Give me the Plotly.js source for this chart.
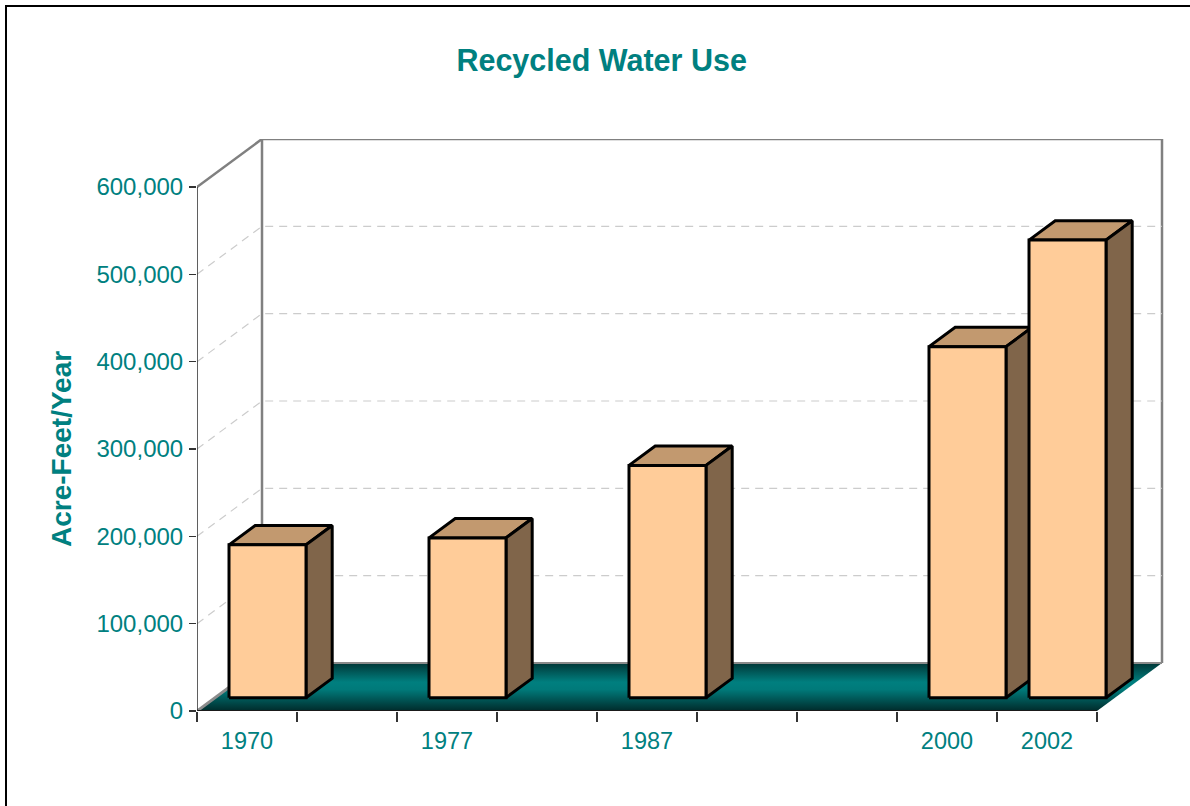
<!DOCTYPE html>
<html>
<head>
<meta charset="utf-8">
<script src="https://cdn.plot.ly/plotly-3.0.1.min.js"></script>
<style>
  html, body { margin: 0; padding: 0; background: #ffffff; overflow: hidden; }
  #wrap { position: relative; width: 1190px; height: 806px; overflow: hidden; }
  #chart { position: absolute; left: 0; top: 0; width: 1190px; height: 806px; }
  #frame { position: absolute; left: 5px; top: 5px; width: 1210px; height: 830px;
           border: 2px solid #000; pointer-events: none; box-sizing: border-box; }
</style>
</head>
<body>
<div id="wrap">
  <div id="chart"></div>
  <div id="frame"></div>
</div>
<script>
// ---- data ----
const categories = ['1970', '', '1977', '', '1987', '', '', '2000', '2002'];
const values = [175000, null, 183000, null, 266000, null, null, 402000, 524000];
const yTickValues = [0, 100000, 200000, 300000, 400000, 500000, 600000];
const chartTitle = 'Recycled Water Use';
const yTitle = 'Acre-Feet/Year';

// ---- style constants ----
const TEAL = '#008080';
const FONT = '"Liberation Sans", Arial, Helvetica, sans-serif';
const DX = 0.65;        // depth offset in category units
const DY = 55000;       // depth offset in value units
const BAR_L = 0.14, BAR_R = 0.91;   // bar extent inside its slot
const Z0 = 0.277, Z1 = 0.68;        // bar depth (front / back)
const n = categories.length;
const yMax = yTickValues[yTickValues.length - 1];

function P(x, y, z) { return [x + z * DX, y + z * DY]; }
function poly(pts) {
  return { x: pts.map(p => p[0]), y: pts.map(p => p[1]) };
}
function lineTrace(pts, color, width, dash) {
  const p = poly(pts);
  return { type: 'scatter', mode: 'lines', x: p.x, y: p.y, xaxis: 'x', yaxis: 'y',
           line: { color: color, width: width, dash: dash || 'solid' },
           hoverinfo: 'skip', showlegend: false };
}
function faceTrace(pts, fill, lineColor, lineWidth) {
  const closed = pts.concat([pts[0]]);
  const p = poly(closed);
  return { type: 'scatter', mode: 'lines', x: p.x, y: p.y, xaxis: 'x', yaxis: 'y',
           fill: 'toself', fillcolor: fill,
           line: { color: lineColor, width: lineWidth },
           hoverinfo: 'skip', showlegend: false };
}

const traces = [];

// floor
const floorPts = [P(0, 0, 0), P(n, 0, 0), P(n, 0, 1), P(0, 0, 1), P(0, 0, 0)];
const fp = poly(floorPts);
traces.push({ type: 'scatter', mode: 'lines', x: fp.x, y: fp.y, fill: 'toself',
  fillcolor: TEAL,
  fillgradient: { type: 'vertical',
    colorscale: [[0, '#002b2b'], [0.45, '#007a7a'], [0.6, '#007f7f'], [1, '#003636']] },
  line: { width: 0, color: 'rgba(0,0,0,0)' }, hoverinfo: 'skip', showlegend: false });
// floor left side (gray) and front edge
traces.push(lineTrace([P(0, 0, 0), P(0, 0, 1)], '#8c8c8c', 3));
traces.push(lineTrace([P(0, 0, 0), P(n, 0, 0)], '#1a1a1a', 2));

// back wall & left wall outlines
traces.push(lineTrace([P(0, 0, 1), P(0, yMax, 1), P(n, yMax, 1), P(n, 0, 1)], '#808080', 2.5));
traces.push(lineTrace([P(0, yMax, 0), P(0, yMax, 1)], '#808080', 2.5));
traces.push(lineTrace([P(0, 0, 1), P(n, 0, 1)], '#8a8a8a', 2));

// gridlines (dashed) on left wall and back wall
yTickValues.slice(1, -1).forEach(t => {
  traces.push(lineTrace([P(0, t, 0), P(0, t, 1), P(n, t, 1)], '#cccccc', 1.2, '8px,6px'));
});

// y axis line
traces.push(lineTrace([P(0, 0, 0), P(0, yMax, 0)], '#2a2a2a', 1.5));

// bars
values.forEach((v, i) => {
  if (v === null || v === undefined) return;
  const x0 = i + BAR_L, x1 = i + BAR_R;
  traces.push(faceTrace([P(x0, v, Z0), P(x1, v, Z0), P(x1, v, Z1), P(x0, v, Z1)], '#c2996f', '#000', 3));
  traces.push(faceTrace([P(x1, 0, Z0), P(x1, 0, Z1), P(x1, v, Z1), P(x1, v, Z0)], '#80654a', '#000', 3));
  traces.push(faceTrace([P(x0, 0, Z0), P(x1, 0, Z0), P(x1, v, Z0), P(x0, v, Z0)], '#ffcc99', '#000', 3));
});

// dummy trace to activate xaxis2 (tick marks)
traces.push({ type: 'scatter', mode: 'markers', x: [0], y: [0], xaxis: 'x2', yaxis: 'y',
  marker: { opacity: 0 }, hoverinfo: 'skip', showlegend: false });

const labelVals = [], labelText = [];
categories.forEach((c, i) => { if (c !== '') { labelVals.push(i + 0.5); labelText.push(c); } });
const tickIdx = [];
for (let i = 0; i <= n; i++) tickIdx.push(i);

const xRange = [0, n + DX + 0.03];
const layout = {
  width: 1190, height: 806,
  margin: { l: 197, r: 25, t: 139, b: 95, pad: 0 },
  paper_bgcolor: '#ffffff', plot_bgcolor: 'rgba(0,0,0,0)',
  font: { family: FONT, color: TEAL },
  showlegend: false,
  title: { text: '<b>' + chartTitle + '</b>', font: { family: FONT, size: 30.5, color: TEAL },
           xref: 'paper', x: 0.418, xanchor: 'center', yref: 'container', y: 1 - 60 / 806, yanchor: 'middle' },
  xaxis: { range: xRange, showgrid: false, zeroline: false, showline: false,
           tickmode: 'array', tickvals: labelVals, ticktext: labelText, ticks: '',
           tickfont: { family: FONT, size: 23.5, color: TEAL }, ticklabelstandoff: 13, fixedrange: true },
  xaxis2: { range: xRange, overlaying: 'x', anchor: 'y', side: 'bottom', showgrid: false, zeroline: false,
            showline: false, tickmode: 'array', tickvals: tickIdx, ticks: 'outside', ticklen: 10,
            tickwidth: 1.2, tickcolor: '#333333', showticklabels: false, fixedrange: true },
  yaxis: { range: [0, yMax + DY], showgrid: false, zeroline: false, showline: false,
           tickmode: 'array', tickvals: yTickValues, tickformat: ',d', ticks: 'outside', ticklen: 7,
           tickwidth: 1.2, tickcolor: '#333333', ticklabelstandoff: 1,
           tickfont: { family: FONT, size: 24, color: TEAL }, fixedrange: true },
  annotations: [{
    text: '<b>' + yTitle + '</b>', textangle: -90, showarrow: false,
    xref: 'paper', yref: 'paper', x: (61 - 197) / 968, y: (711 - 449) / 572,
    xanchor: 'center', yanchor: 'middle',
    font: { family: FONT, size: 28, color: TEAL }
  }],
  separators: '.,'
};

Plotly.newPlot('chart', traces, layout, { staticPlot: true, displayModeBar: false });
</script>
</body>
</html>
